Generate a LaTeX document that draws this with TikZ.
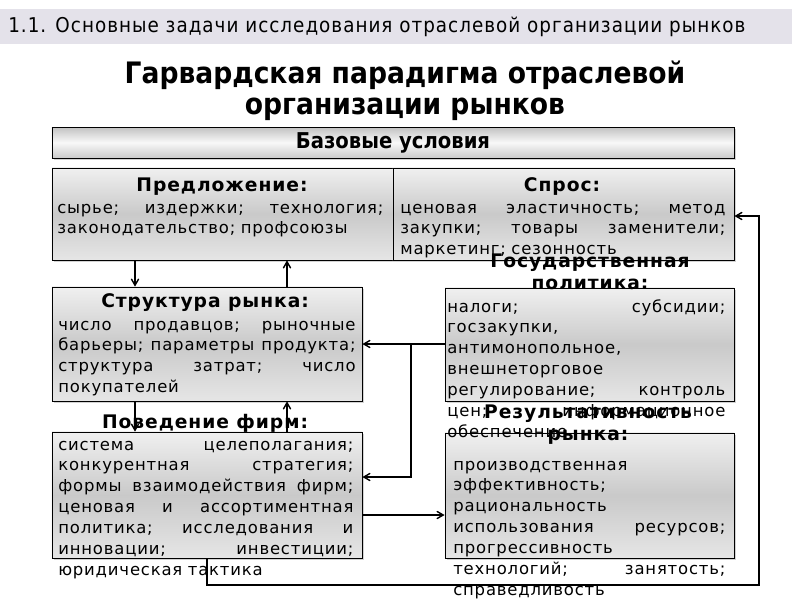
\documentclass[tikz,border=0pt]{standalone}
\usepackage{fontspec}
\setmainfont{DejaVu Sans}
\newfontfamily\condfont{DejaVu Sans Condensed}
\newfontfamily\headfont[LetterSpace=5]{DejaVu Sans Condensed}
\newfontfamily\boxfont[LetterSpace=5]{DejaVu Sans}
\usetikzlibrary{arrows,shadows}

\definecolor{headbar}{HTML}{E4E2EA}
% justified line: words separated by \hfill
\newcommand{\jl}[1]{\leavevmode\hbox to\hsize{#1}\\}

\tikzset{
  box/.style={draw=black, line width=0.5pt, top color=gray!12, bottom color=gray!20, middle color=gray!42,
    drop shadow={shadow xshift=1.5pt, shadow yshift=-1.5pt, fill=gray!70}},
  basebox/.style={box, top color=gray!48, bottom color=gray!42, middle color=gray!5,
    font=\condfont\bfseries\fontsize{15.5}{17}\selectfont},
  boxtitle/.style={anchor=base, align=center, inner sep=0, font=\boxfont\bfseries\fontsize{13.3}{15.6}\selectfont},
  boxtext/.style={anchor=base west, align=left, inner sep=0, font=\boxfont\fontsize{11.7}{14.9}\selectfont},
  conn/.style={->, line width=1pt}
}

\begin{document}
\begin{tikzpicture}[x=0.025cm, y=-0.025cm, >=angle 60]
\useasboundingbox (0,0) rectangle (800,600);

% header and title
\fill[headbar] (0,9) rectangle (792,44);
\node[anchor=west, inner sep=0, font=\headfont\fontsize{14.5}{16}\selectfont] (head) at (8,27)
  {1.1. Основные задачи исследования отраслевой организации рынков};
\node[anchor=base, align=center, inner sep=0, font=\condfont\bfseries\fontsize{21}{22}\selectfont] (title) at (405,114)
  {Гарвардская парадигма отраслевой\\организации рынков};

% boxes
\node[basebox, minimum width=17.05cm, minimum height=0.775cm] (base) at (393,142.5) {Базовые условия};
\node[box, minimum width=8.525cm, minimum height=2.3cm] (supply) at (222.5,214) {};
\node[box, minimum width=8.525cm, minimum height=2.3cm] (demand) at (563.5,214) {};
\node[box, minimum width=7.75cm, minimum height=2.85cm] (market) at (207,344) {};
\node[box, minimum width=7.225cm, minimum height=2.825cm] (policy) at (589.5,344.5) {};
\node[box, minimum width=7.75cm, minimum height=3.15cm] (firms) at (207,495) {};
\node[box, minimum width=7.225cm, minimum height=3.125cm] (results) at (589.5,495.5) {};

% texts
\node[boxtitle] (supplyT) at (222,191) {Предложение:};
\node[boxtext, text width=8.15cm] (supplyB) at (57,213)
  {\jl{сырье;\hfill издержки;\hfill технология;}законодательство; профсоюзы};

\node[boxtitle] (demandT) at (562,191) {Спрос:};
\node[boxtext, text width=8.125cm] (demandB) at (400,213)
  {\jl{ценовая\hfill эластичность;\hfill метод}\jl{закупки;\hfill товары\hfill заменители;}маркетинг; сезонность};

\node[boxtitle] (marketT) at (205,307) {Структура рынка:};
\node[boxtext, text width=7.43cm] (marketB) at (58,330)
  {\jl{число\hfill продавцов;\hfill рыночные}\jl{барьеры;\hfill параметры\hfill продукта;}\jl{структура\hfill затрат;\hfill число}покупателей};

\node[boxtitle] (policyT) at (590,289) {Государственная\\политика:};
\node[boxtext, text width=6.95cm] (policyB) at (447,312)
  {\jl{налоги;\hfill субсидии;}госзакупки,\\антимонопольное,\\внешнеторговое\\\jl{регулирование;\hfill контроль}\jl{цен;\hfill информационное}обеспечение};

\node[boxtitle] (firmsT) at (205,428) {Поведение фирм:};
\node[boxtext, text width=7.375cm] (firmsB) at (58,450)
  {\jl{система\hfill целеполагания;}\jl{конкурентная\hfill стратегия;}\jl{формы\hfill взаимодействия\hfill фирм;}\jl{ценовая\hfill и\hfill ассортиментная}\jl{политика;\hfill исследования\hfill и}\jl{инновации;\hfill инвестиции;}юридическая тактика};

\node[boxtitle] (resultsT) at (588,440) {Результативность\\рынка:};
\node[boxtext, text width=6.8cm] (resultsB) at (453,470)
  {производственная\\эффективность;\\рациональность\\\jl{использования\hfill ресурсов;}прогрессивность\\\jl{технологий;\hfill занятость;}справедливость};

% connectors
\coordinate (fork) at (411,344);
\coordinate (loopA) at (207,585);
\coordinate (loopB) at (759,216);
\draw[conn] (supply.south -| 135,0) -- (market.north -| 135,0);
\draw[conn] (market.north -| 287,0) -- (supply.south -| 287,0);
\draw[conn] (market.south -| 135,0) -- (firms.north -| 135,0);
\draw[conn] (firms.north -| 287,0) -- (market.south -| 287,0);
\draw[conn] (policy.west |- fork) -- (market.east |- fork);
\draw[conn] (fork) |- (firms.east |- 0,477);
\draw[conn] (firms.east |- 0,515) -- (results.west |- 0,515);
\draw[conn] (firms.south -| loopA) -- (loopA) -| (loopB) -- (demand.east |- loopB);

\end{tikzpicture}
\end{document}
